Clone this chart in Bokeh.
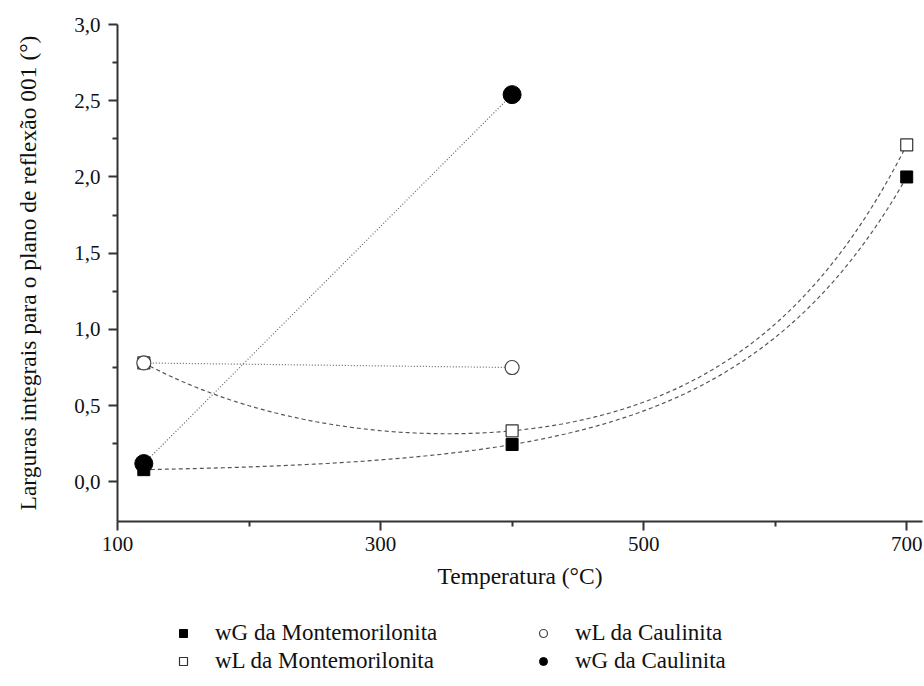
import numpy as np
from bokeh.plotting import figure
from bokeh.layouts import column
from bokeh.models import FixedTicker, Legend, LegendItem, Range1d
from bokeh.embed import file_html
from bokeh.resources import INLINE

# ---- data ----
temps_mont = [120, 400, 700]
wG_mont = [0.08, 0.245, 2.0]
wL_mont = [0.78, 0.335, 2.21]

temps_caul = [120, 400]
wL_caul = [0.78, 0.75]
wG_caul = [0.12, 2.54]

x_ticks = [100, 300, 500, 700]
x_minor = [200, 400, 600]
y_ticks = [0.0, 0.5, 1.0, 1.5, 2.0, 2.5, 3.0]
y_tick_labels = ["0,0", "0,5", "1,0", "1,5", "2,0", "2,5", "3,0"]
y_minor = [0.25, 0.75, 1.25, 1.75, 2.25, 2.75]

series_labels = ["wG da Montemorilonita", "wL da Montemorilonita",
                 "wL da Caulinita", "wG da Caulinita"]

FONT = "Liberation Serif"


def fit_curve(xs, ys, n=240):
    """Smooth fitted curve through the points (exp decay + exp growth + const)."""
    xs = np.asarray(xs, float)
    ys = np.asarray(ys, float)

    def basis(x):
        return np.column_stack([np.ones_like(x), np.exp(-x / 160.0), np.exp(x / 128.0)])

    coef = np.linalg.solve(basis(xs), ys)
    xx = np.linspace(xs.min(), xs.max(), n)
    return xx, basis(xx) @ coef


p = figure(width=924, height=600,
           x_range=Range1d(100, 712), y_range=Range1d(-0.26, 3.0),
           output_backend="svg", toolbar_location=None,
           min_border_left=117, min_border_right=2, min_border_top=24,
           min_border_bottom=79)
p.outline_line_color = None
p.grid.visible = False

# fitted dashed curves (Montemorilonita)
xx, yy = fit_curve(temps_mont, wG_mont)
p.line(xx, yy, line_color="#555555", line_width=1.2, line_dash="4 3")
xx, yy = fit_curve(temps_mont, wL_mont)
p.line(xx, yy, line_color="#555555", line_width=1.2, line_dash="4 3")

# dotted straight lines (Caulinita)
p.line(temps_caul, wL_caul, line_color="#666666", line_width=1.2, line_dash="1 2")
p.line(temps_caul, wG_caul, line_color="#666666", line_width=1.2, line_dash="1 2")

styles = [
    dict(marker="square", size=12, fill_color="black", line_color="black", line_width=1),
    dict(marker="square", size=12, fill_color="white", line_color="#333333", line_width=1.2),
    dict(marker="circle", size=14, fill_color="white", line_color="#444444", line_width=1.2),
    dict(marker="circle", size=18, fill_color="black", line_color="black", line_width=1),
]
series_x = [temps_mont, temps_mont, temps_caul, temps_caul]
series_y = [wG_mont, wL_mont, wL_caul, wG_caul]
for xs, ys, st in zip(series_x, series_y, styles):
    p.scatter(xs, ys, **st)

# axes
p.xaxis.ticker = FixedTicker(ticks=x_ticks, minor_ticks=x_minor)
p.yaxis.ticker = FixedTicker(ticks=y_ticks, minor_ticks=y_minor)
p.yaxis.major_label_overrides = dict(zip(y_ticks, y_tick_labels))
p.xaxis.axis_label = "Temperatura (°C)"
p.yaxis.axis_label = "Larguras integrais para o plano de reflexão 001 (°)"
for ax in (p.xaxis[0], p.yaxis[0]):
    ax.axis_line_width = 2
    ax.axis_line_color = "#333333"
    ax.major_tick_line_width = 2
    ax.major_tick_line_color = "#333333"
    ax.minor_tick_line_width = 2
    ax.minor_tick_line_color = "#333333"
    ax.major_tick_out = 9
    ax.major_tick_in = 0
    ax.minor_tick_out = 5
    ax.minor_tick_in = 0
    ax.major_label_text_font = FONT
    ax.major_label_text_font_size = "21px"
    ax.major_label_text_color = "#111111"
    ax.axis_label_text_font = FONT
    ax.axis_label_text_font_size = "23.5px"
    ax.axis_label_text_font_style = "normal"
    ax.axis_label_text_color = "#111111"
p.xaxis.major_label_standoff = 6
p.xaxis.axis_label_standoff = 9
p.yaxis.major_label_standoff = 8
p.yaxis.axis_label_standoff = 30

# ---- legend strip below the plot (its data lie outside its ranges) ----
pl = figure(width=924, height=86, x_range=Range1d(0, 1), y_range=Range1d(0, 1),
            x_axis_type=None, y_axis_type=None,
            output_backend="svg", toolbar_location=None,
            min_border_left=0, min_border_right=0, min_border_top=0,
            min_border_bottom=0)
pl.outline_line_color = None
pl.grid.visible = False

items = []
for lab, xs, ys, st in zip(series_labels, series_x, series_y, styles):
    r = pl.scatter(xs, ys, **st)
    items.append(LegendItem(label=lab, renderers=[r]))

legend = Legend(items=items, location=(56, 11), nrows=2,
                label_text_font=FONT, label_text_font_size="23px",
                label_text_color="#111111",
                glyph_width=20, glyph_height=28, label_height=28,
                label_width=318, label_standoff=22, spacing=0,
                padding=0, margin=0,
                border_line_alpha=0, background_fill_alpha=0)
pl.add_layout(legend, "center")

open("out.html", "w").write(file_html(column(p, pl, spacing=0), INLINE))
